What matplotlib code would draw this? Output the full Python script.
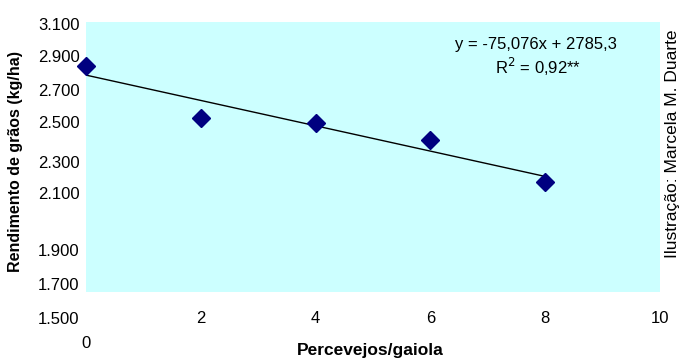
import matplotlib
matplotlib.use('Agg')
import matplotlib.pyplot as plt
import numpy as np

plt.rcParams['font.family'] = ['Liberation Sans', 'DejaVu Sans']

# data
percevejos = [0, 2, 4, 6, 8]
rendimento = [2840, 2530, 2500, 2400, 2154]

slope = -75.076  # regression from the chart
intercept = 2785.3

x_ticks = [2, 4, 6, 8, 10]
x_tick_labels = ['2', '4', '6', '8', '10']

# y labels of the original are not evenly spaced, keep where they sit
y_tick_labels = ['3.100', '2.900', '2.700', '2.500', '2.300', '2.100', '1.900', '1.700', '1.500']
y_tick_pos = [3082, 2887, 2691, 2496, 2264, 2080, 1740, 1541, 1335]

W, H = 682, 358
fig = plt.figure(figsize=(W / 100, H / 100), dpi=100)
ax = fig.add_axes([86 / W, (H - 292) / H, (660 - 86) / W, (292 - 22) / H])
ax.set_facecolor('#CCFFFF')
ax.set_xlim(0, 10)
ax.set_ylim(1500, 3100)
for s in ax.spines.values():
    s.set_visible(False)

# trend line
xl = np.array([0, 8])
ax.plot(xl, intercept + slope * xl, color='black', lw=1, zorder=2)
ax.plot(percevejos, rendimento, linestyle='none', marker='D', ms=9.5,
        color='#000080', zorder=3, clip_on=False)

ax.set_xticks(x_ticks)
ax.set_xticklabels(x_tick_labels, fontsize=12)
ax.tick_params(axis='x', length=0, pad=14)
ax.set_xticks([10], minor=True)
ax.tick_params(axis='x', which='minor', length=4, width=1, color='#404040', direction='out')
ax.set_yticks([])

ytr = ax.get_yaxis_transform()
for lab, pos in zip(y_tick_labels, y_tick_pos):
    ax.text(-0.011, pos, lab, transform=ytr, ha='right', va='center',
            fontsize=12, clip_on=False)
# the x "0" sits lower than the other x labels
fig.text(86 / W, 1 - 343 / H, '0', ha='center', va='center', fontsize=12)

fig.text(370 / W, 1 - 350 / H, 'Percevejos/gaiola', ha='center', va='center',
         fontsize=12.5, fontweight='bold')
fig.text(16 / W, 1 - 162 / H, 'Rendimento de grãos (kg/ha)', ha='center', va='center',
         rotation=90, fontsize=11.5, fontweight='bold')

fig.text(536 / W, 1 - 44 / H, 'y = -75,076x + 2785,3', ha='center', va='center', fontsize=12)
fig.text(538 / W, 1 - 67 / H, 'R$^2$ = 0,92**', ha='center', va='center', fontsize=12)

fig.text(672 / W, 1 - 144 / H, 'Ilustração: Marcela M. Duarte', ha='center', va='center',
         rotation=90, fontsize=12.5)

fig.savefig('out.png', dpi=100)
